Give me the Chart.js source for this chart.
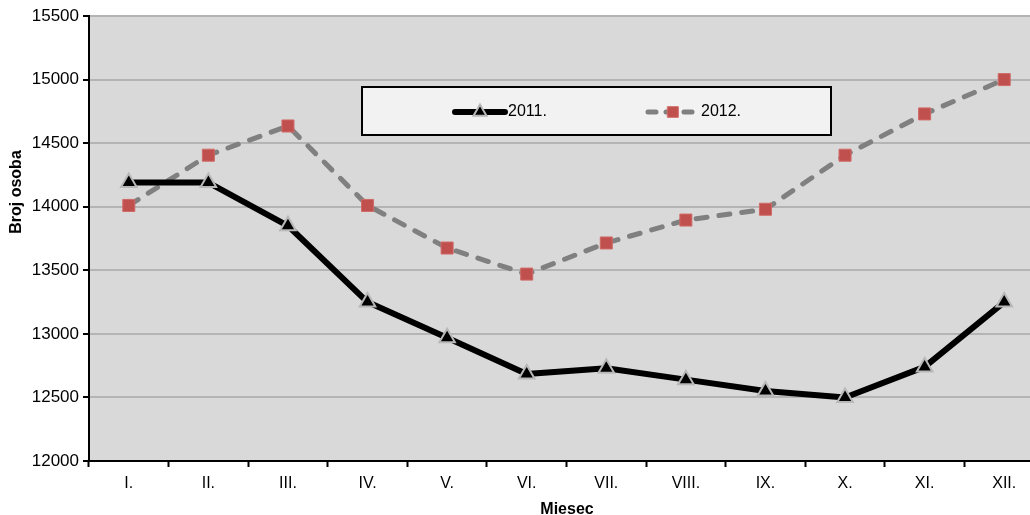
<!DOCTYPE html>
<html>
<head>
<meta charset="utf-8">
<script src="https://cdn.jsdelivr.net/npm/chart.js@4.4.1/dist/chart.umd.min.js"></script>
<style>
  html, body { margin: 0; padding: 0; background: #fff; overflow: hidden; }
  #wrap { width: 1030px; height: 515px; overflow: hidden; }
</style>
</head>
<body>
<div id="wrap"><canvas id="lineChart" width="1044" height="515"></canvas></div>
<script>
var months = ['I.', 'II.', 'III.', 'IV.', 'V.', 'VI.', 'VII.', 'VIII.', 'IX.', 'X.', 'XI.', 'XII.'];
var values2011 = [14190, 14190, 13850, 13250, 12970, 12685, 12730, 12640, 12550, 12500, 12740, 13250];
var values2012 = [14010, 14405, 14635, 14010, 13675, 13470, 13715, 13895, 13980, 14405, 14730, 15000];
var seriesNames = ['2011.', '2012.'];
var yTicks = [12000, 12500, 13000, 13500, 14000, 14500, 15000, 15500];

var black = '#000000',
    gray  = '#808080',
    red   = '#C0504D',
    plotBg = '#D9D9D9',
    fontFam = '"Liberation Sans", Arial, sans-serif';

// ------------------------------------------------------- //
// plot background
// ------------------------------------------------------ //
var plotBackground = {
    id: 'plotBackground',
    beforeDraw: function (chart) {
        var a = chart.chartArea, c = chart.ctx;
        c.save();
        c.fillStyle = plotBg;
        c.fillRect(a.left, a.top, a.right - a.left, a.bottom - a.top);
        c.restore();
    }
};

// ------------------------------------------------------- //
// axis titles + legend box (placed like in the original)
// ------------------------------------------------------ //
var extras = {
    id: 'extras',
    afterDraw: function (chart) {
        var c = chart.ctx;
        c.save();

        // axis titles
        c.fillStyle = black;
        c.font = 'bold 16px ' + fontFam;
        c.textAlign = 'center';
        c.textBaseline = 'middle';
        c.fillText('Miesec', 567, 510);
        c.save();
        c.translate(17, 192);
        c.rotate(-Math.PI / 2);
        c.fillText('Broj osoba', 0, 0);
        c.restore();

        // legend
        c.fillStyle = '#F2F2F2';
        c.fillRect(362, 87, 469, 48);
        c.strokeStyle = black;
        c.lineWidth = 2;
        c.strokeRect(362, 87, 469, 48);

        var items = [{x: 455, w: 50, ds: chart.data.datasets[0]}, {x: 648, w: 46, ds: chart.data.datasets[1]}];
        items.forEach(function (it) {
            var ds = it.ds, y = 112;
            c.strokeStyle = ds.borderColor;
            c.lineWidth = ds.borderWidth;
            c.lineCap = 'round';
            c.setLineDash(ds.borderDash ? [8, 10] : []);
            c.beginPath();
            c.moveTo(it.x, y);
            c.lineTo(it.x + it.w, y);
            c.stroke();
            c.setLineDash([]);
            c.fillStyle = ds.pointBackgroundColor;
            c.strokeStyle = ds.pointBorderColor;
            c.lineWidth = ds.pointBorderWidth;
            Chart.helpers.drawPoint(c, {
                pointStyle: ds.pointStyle,
                radius: 7.5,
                borderWidth: ds.pointBorderWidth,
                rotation: 0
            }, it.x + 25, y);
            c.fillStyle = black;
            c.font = '16px ' + fontFam;
            c.textAlign = 'left';
            c.textBaseline = 'middle';
            c.fillText(ds.label, it.x + 53, y);
        });
        c.restore();
    }
};

var ctx = document.getElementById('lineChart').getContext('2d');
var lineChart = new Chart(ctx, {
    type: 'line',
    plugins: [plotBackground, extras],
    data: {
        labels: months,
        datasets: [
            {
                label: seriesNames[0],
                data: values2011,
                borderColor: black,
                borderWidth: 6,
                borderCapStyle: 'round',
                borderJoinStyle: 'round',
                tension: 0,
                pointStyle: 'triangle',
                pointRadius: 9,
                pointHoverRadius: 9,
                pointBackgroundColor: black,
                pointBorderColor: '#B8B8B8',
                pointBorderWidth: 2,
                fill: false
            },
            {
                label: seriesNames[1],
                data: values2012,
                borderColor: gray,
                borderWidth: 5,
                borderDash: [11, 12],
                borderCapStyle: 'round',
                borderJoinStyle: 'round',
                tension: 0,
                pointStyle: 'rect',
                pointRadius: 8.5,
                pointHoverRadius: 8.5,
                pointBackgroundColor: red,
                pointBorderColor: '#D06A68',
                pointBorderWidth: 1,
                fill: false
            }
        ]
    },
    options: {
        responsive: false,
        animation: false,
        devicePixelRatio: 1,
        layout: { autoPadding: false, padding: { top: 16, left: 0, right: 0, bottom: 0 } },
        plugins: {
            legend: { display: false },
            tooltip: { enabled: false }
        },
        scales: {
            x: {
                offset: true,
                afterFit: function (s) { s.height = 54; },
                grid: {
                    offset: true,
                    drawOnChartArea: false,
                    drawTicks: true,
                    tickLength: 6,
                    tickColor: black,
                    tickWidth: 2
                },
                border: { color: black, width: 2 },
                ticks: {
                    color: black,
                    padding: 7,
                    maxRotation: 0,
                    font: { family: fontFam, size: 16 }
                }
            },
            y: {
                min: 12000,
                max: 15500,
                afterFit: function (s) { s.width = 89; },
                afterBuildTicks: function (s) {
                    s.ticks = yTicks.map(function (v) { return {value: v}; });
                },
                grid: {
                    color: '#B4B4B4',
                    lineWidth: 2,
                    drawTicks: true,
                    tickLength: 6,
                    tickColor: black,
                    tickWidth: 2
                },
                border: { color: black, width: 2 },
                ticks: {
                    color: black,
                    padding: 4,
                    font: { family: fontFam, size: 17 },
                    callback: function (v) { return String(v); }
                }
            }
        }
    }
});
</script>
</body>
</html>
